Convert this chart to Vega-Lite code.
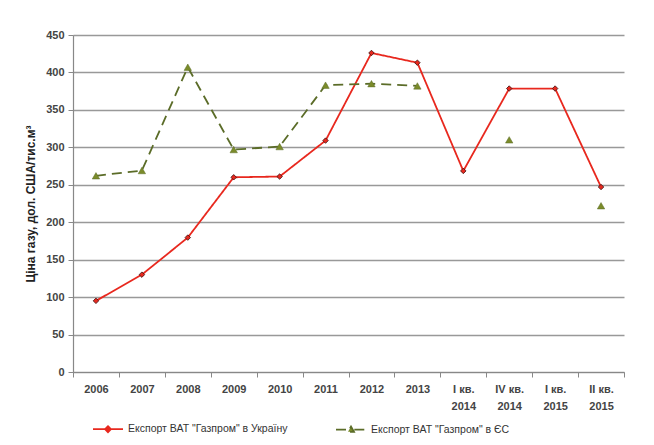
{
  "$schema": "https://vega.github.io/schema/vega-lite/v6.json",
  "width": 551,
  "height": 337,
  "autosize": "none",
  "padding": {"left": 73, "top": 35, "right": 30, "bottom": 73},
  "background": "white",
  "config": {"view": {"stroke": null}, "font": "Liberation Sans"},
  "data": {
    "values": [
      {"period": "2006", "series": "Експорт ВАТ \"Газпром\" в Україну", "price": 95},
      {"period": "2007", "series": "Експорт ВАТ \"Газпром\" в Україну", "price": 130},
      {"period": "2008", "series": "Експорт ВАТ \"Газпром\" в Україну", "price": 179.5},
      {"period": "2009", "series": "Експорт ВАТ \"Газпром\" в Україну", "price": 260},
      {"period": "2010", "series": "Експорт ВАТ \"Газпром\" в Україну", "price": 261},
      {"period": "2011", "series": "Експорт ВАТ \"Газпром\" в Україну", "price": 309},
      {"period": "2012", "series": "Експорт ВАТ \"Газпром\" в Україну", "price": 426},
      {"period": "2013", "series": "Експорт ВАТ \"Газпром\" в Україну", "price": 413},
      {"period": "I кв. 2014", "series": "Експорт ВАТ \"Газпром\" в Україну", "price": 268.5},
      {"period": "IV кв. 2014", "series": "Експорт ВАТ \"Газпром\" в Україну", "price": 378.5},
      {"period": "I кв. 2015", "series": "Експорт ВАТ \"Газпром\" в Україну", "price": 378.5},
      {"period": "II кв. 2015", "series": "Експорт ВАТ \"Газпром\" в Україну", "price": 247},
      {"period": "2006", "series": "Експорт ВАТ \"Газпром\" в ЄС", "price": 262},
      {"period": "2007", "series": "Експорт ВАТ \"Газпром\" в ЄС", "price": 269},
      {"period": "2008", "series": "Експорт ВАТ \"Газпром\" в ЄС", "price": 407},
      {"period": "2009", "series": "Експорт ВАТ \"Газпром\" в ЄС", "price": 297},
      {"period": "2010", "series": "Експорт ВАТ \"Газпром\" в ЄС", "price": 301},
      {"period": "2011", "series": "Експорт ВАТ \"Газпром\" в ЄС", "price": 383},
      {"period": "2012", "series": "Експорт ВАТ \"Газпром\" в ЄС", "price": 385},
      {"period": "2013", "series": "Експорт ВАТ \"Газпром\" в ЄС", "price": 382},
      {"period": "I кв. 2014", "series": "Експорт ВАТ \"Газпром\" в ЄС", "price": null},
      {"period": "IV кв. 2014", "series": "Експорт ВАТ \"Газпром\" в ЄС", "price": 310},
      {"period": "I кв. 2015", "series": "Експорт ВАТ \"Газпром\" в ЄС", "price": null},
      {"period": "II кв. 2015", "series": "Експорт ВАТ \"Газпром\" в ЄС", "price": 222}
    ]
  },
  "layer": [
    {
      "mark": {"type": "line", "strokeWidth": 1.8, "invalid": "break-paths-show-domains"},
      "encoding": {
        "x": {
          "field": "period", "type": "ordinal", "sort": null, "bandPosition": 0.5,
          "scale": {"type": "band", "paddingInner": 0, "paddingOuter": 0},
          "axis": {
            "title": null, "labelAngle": 0, "grid": false,
            "tickBand": "extent", "tickSize": 5, "tickColor": "#888", "domainColor": "#888", "domainWidth": 1.2,
            "labelFontSize": 11, "labelFontWeight": "bold", "labelColor": "#444", "labelPadding": 6, "labelLineHeight": 17,
            "labelExpr": "length(datum.label) > 4 ? [slice(datum.label, 0, -5), slice(datum.label, -4)] : datum.label"
          }
        },
        "y": {
          "field": "price", "type": "quantitative",
          "scale": {"domain": [0, 450]},
          "axis": {
            "title": "Ціна газу, дол. США/тис.м³", "titleFontSize": 12, "titleFontWeight": "bold", "titleColor": "#222", "titlePadding": 8,
            "values": [0, 50, 100, 150, 200, 250, 300, 350, 400, 450], "tickCount": 20, "labelOverlap": false,
            "grid": true, "gridColor": "#999", "gridWidth": 1.5,
            "domainColor": "#888", "domainWidth": 1.2, "tickColor": "#888", "tickSize": 5,
            "labelFontSize": 11, "labelFontWeight": "bold", "labelColor": "#444", "labelPadding": 4
          }
        },
        "color": {
          "field": "series", "type": "nominal",
          "scale": {"domain": ["Експорт ВАТ \"Газпром\" в Україну", "Експорт ВАТ \"Газпром\" в ЄС"], "range": ["#e8281e", "#5b6c28"]},
          "legend": {
            "title": null, "orient": "none", "legendX": 19, "legendY": 378, "direction": "horizontal", "columns": 2,
            "columnPadding": 44, "symbolSize": 900, "symbolStrokeWidth": 1.8, "labelFontSize": 10.5, "labelColor": "#333", "labelLimit": 300, "labelOffset": 4,
            "encode": {
              "symbols": {
                "update": {
                  "shape": {"signal": "datum.index === 0 ? 'M-1,0L-0.2,0M0.2,0L1,0M0,-0.2L0.2,0L0,0.2L-0.2,0Z' : 'M-1,0L-0.22,0M0.22,0L1,0M0,-0.2L0.2,0.15L-0.2,0.15Z'"},
                  "fill": {"signal": "datum.index === 0 ? '#e8281e' : '#7b8b2a'"},
                  "strokeDash": {"value": [1, 0]}
                }
              }
            }
          }
        },
        "strokeDash": {
          "field": "series", "type": "nominal",
          "scale": {"domain": ["Експорт ВАТ \"Газпром\" в Україну", "Експорт ВАТ \"Газпром\" в ЄС"], "range": [[1, 0], [10, 6]]},
          "legend": null
        }
      }
    },
    {
      "transform": [{"filter": {"field": "series", "equal": "Експорт ВАТ \"Газпром\" в Україну"}}],
      "mark": {"type": "point", "shape": "diamond", "filled": true, "fill": "#e8281e", "stroke": "#3a1010", "strokeWidth": 0.8, "size": 30, "opacity": 1},
      "encoding": {
        "x": {"field": "period", "type": "ordinal", "sort": null, "bandPosition": 0.5},
        "y": {"field": "price", "type": "quantitative"}
      }
    },
    {
      "transform": [{"filter": {"field": "series", "equal": "Експорт ВАТ \"Газпром\" в ЄС"}}],
      "mark": {"type": "point", "shape": "triangle-up", "filled": true, "fill": "#7b8b2a", "stroke": "#5b6c28", "strokeWidth": 0.5, "size": 55, "opacity": 1},
      "encoding": {
        "x": {"field": "period", "type": "ordinal", "sort": null, "bandPosition": 0.5},
        "y": {"field": "price", "type": "quantitative"}
      }
    }
  ]
}
